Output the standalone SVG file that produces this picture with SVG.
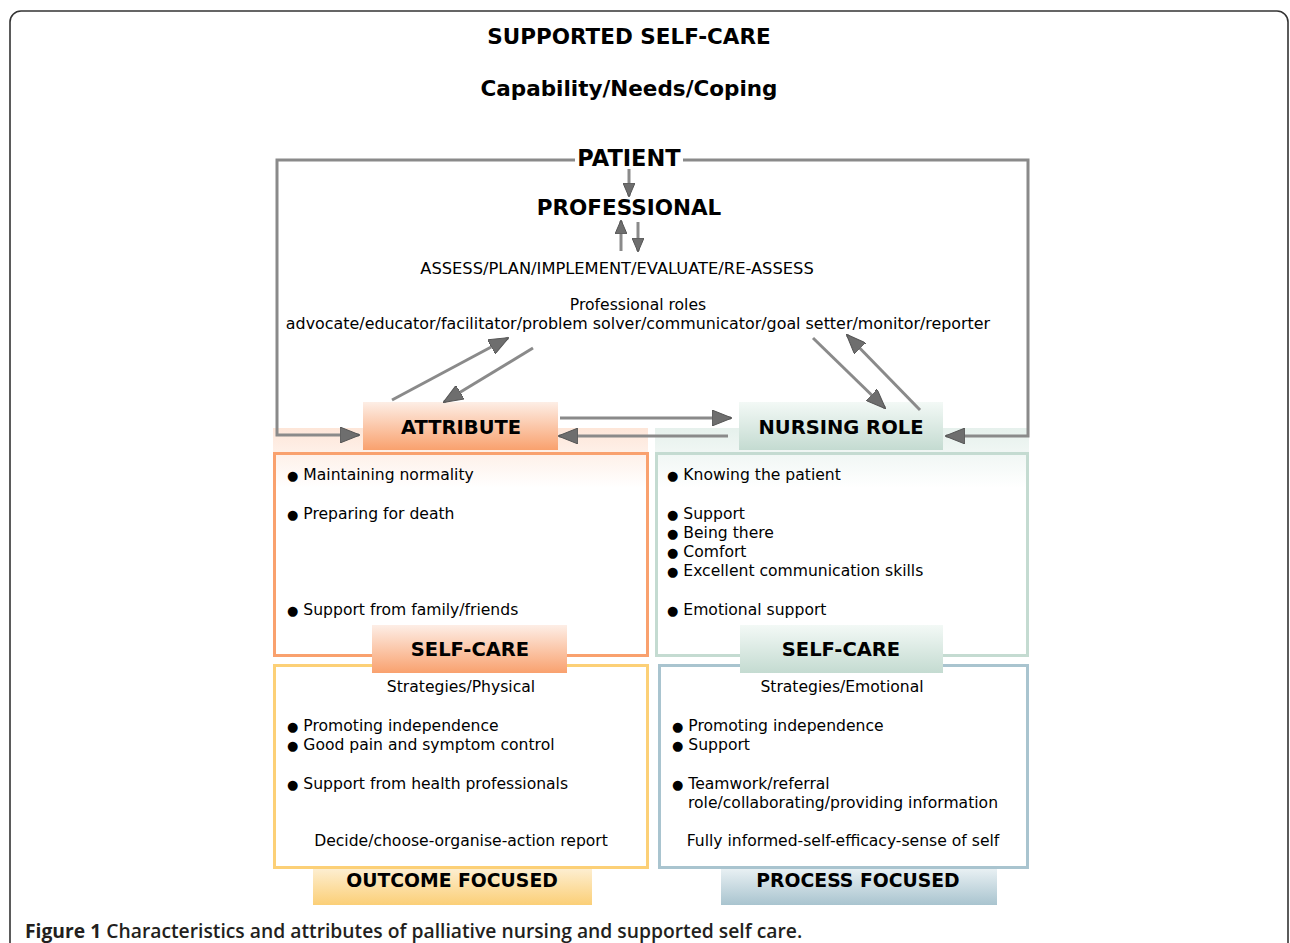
<svg xmlns="http://www.w3.org/2000/svg" width="1290" height="943" viewBox="0 0 1290 943">
<style>
.t{font-family:"DejaVu Sans",Verdana,sans-serif;fill:#000}
.h{font-size:21.5px;font-weight:bold}
.b{font-size:19.5px;font-weight:bold}
.f{font-size:18.8px;font-weight:bold}
.n{font-size:15.6px}
.c{text-anchor:middle}
.d{font-size:13px}
.ln{fill:none;stroke:#8a8a8a;stroke-width:3}
.cap{font-family:"Open Sans","Liberation Sans",sans-serif;font-size:19.3px;fill:#231f20}
</style>
<defs>
<marker id="ah" markerUnits="userSpaceOnUse" markerWidth="20" markerHeight="16" refX="19" refY="8" orient="auto">
<path d="M0,0 L20,8 L0,16 z" fill="#6e6e6e" stroke="#555" stroke-width="1"/>
</marker>
<marker id="as" markerUnits="userSpaceOnUse" markerWidth="14" markerHeight="12" refX="13" refY="6" orient="auto">
<path d="M0,0 L14,6 L0,12 z" fill="#6e6e6e" stroke="#555" stroke-width="1"/>
</marker>
<linearGradient id="gOr" x1="0" y1="0" x2="0" y2="1"><stop offset="0" stop-color="#fdeee6"/><stop offset="1" stop-color="#f9a16e"/></linearGradient>
<linearGradient id="gGr" x1="0" y1="0" x2="0" y2="1"><stop offset="0" stop-color="#f3f9f6"/><stop offset="1" stop-color="#c4dbd1"/></linearGradient>
<linearGradient id="gYe" x1="0" y1="0" x2="0" y2="1"><stop offset="0" stop-color="#fdeed0"/><stop offset="1" stop-color="#fbcf77"/></linearGradient>
<linearGradient id="gBl" x1="0" y1="0" x2="0" y2="1"><stop offset="0" stop-color="#e8f0f3"/><stop offset="1" stop-color="#a9c4cf"/></linearGradient>
<linearGradient id="bandOr" x1="0" y1="0" x2="0" y2="1"><stop offset="0" stop-color="#fde3d4" stop-opacity="0.9"/><stop offset="1" stop-color="#fde3d4" stop-opacity="0"/></linearGradient>
<linearGradient id="bandGr" x1="0" y1="0" x2="0" y2="1"><stop offset="0" stop-color="#e3efea" stop-opacity="0.9"/><stop offset="1" stop-color="#e3efea" stop-opacity="0"/></linearGradient>
</defs>
<rect width="1290" height="943" fill="#fff"/>
<rect x="10" y="11" width="1278" height="960" rx="11" fill="none" stroke="#333" stroke-width="1.6"/>
<g id="titles">
<text class="t h c" x="629" y="44">SUPPORTED SELF-CARE</text>
<text class="t h c" x="629" y="96">Capability/Needs/Coping</text>
</g>
<g id="bands">
<rect x="273" y="428" width="375" height="60" fill="url(#bandOr)"/>
<rect x="655" y="428" width="374" height="60" fill="url(#bandGr)"/>
</g>
<g id="patient"><text class="t c" x="629" y="166" font-size="22.5px" font-weight="bold">PATIENT</text></g>
<g id="professional"><text class="t h c" x="629" y="215">PROFESSIONAL</text></g>
<g id="process-text">
<text class="t c" x="617" y="274" font-size="16.3px">ASSESS/PLAN/IMPLEMENT/EVALUATE/RE-ASSESS</text>
<text class="t n c" x="638" y="310">Professional roles</text>
<text class="t c" x="638" y="329" font-size="15.9px">advocate/educator/facilitator/problem solver/communicator/goal setter/monitor/reporter</text>
</g>
<g id="attribute-panel">
<rect x="274.5" y="453.5" width="373" height="202" fill="none" stroke="#f9a16e" stroke-width="3"/>
<text class="t n" x="287" y="480"><tspan class="d">●</tspan> Maintaining normality</text>
<text class="t n" x="287" y="519"><tspan class="d">●</tspan> Preparing for death</text>
<text class="t n" x="287" y="615"><tspan class="d">●</tspan> Support from family/friends</text>
</g>
<g id="nursing-panel">
<rect x="656.5" y="453.5" width="371" height="202" fill="none" stroke="#c4dbd1" stroke-width="3"/>
<text class="t n" x="667" y="480"><tspan class="d">●</tspan> Knowing the patient</text>
<text class="t n" x="667" y="519"><tspan class="d">●</tspan> Support</text>
<text class="t n" x="667" y="538"><tspan class="d">●</tspan> Being there</text>
<text class="t n" x="667" y="557"><tspan class="d">●</tspan> Comfort</text>
<text class="t n" x="667" y="576"><tspan class="d">●</tspan> Excellent communication skills</text>
<text class="t n" x="667" y="615"><tspan class="d">●</tspan> Emotional support</text>
</g>
<g id="physical-panel">
<rect x="274.5" y="665.5" width="373" height="202" fill="none" stroke="#fcd077" stroke-width="3"/>
<text class="t n c" x="461" y="692">Strategies/Physical</text>
<text class="t n" x="287" y="731"><tspan class="d">●</tspan> Promoting independence</text>
<text class="t n" x="287" y="750"><tspan class="d">●</tspan> Good pain and symptom control</text>
<text class="t n" x="287" y="789"><tspan class="d">●</tspan> Support from health professionals</text>
<text class="t n c" x="461" y="846">Decide/choose-organise-action report</text>
</g>
<g id="emotional-panel">
<rect x="659.5" y="665.5" width="368" height="202" fill="none" stroke="#a9c4cf" stroke-width="3"/>
<text class="t n c" x="842" y="692">Strategies/Emotional</text>
<text class="t n" x="672" y="731"><tspan class="d">●</tspan> Promoting independence</text>
<text class="t n" x="672" y="750"><tspan class="d">●</tspan> Support</text>
<text class="t n" x="672" y="789"><tspan class="d">●</tspan> Teamwork/referral</text>
<text class="t n" x="688" y="808">role/collaborating/providing information</text>
<text class="t n c" x="843" y="846">Fully informed-self-efficacy-sense of self</text>
</g>
<g id="attribute">
<rect x="363" y="402" width="195" height="48" fill="url(#gOr)"/>
<text class="t b c" x="461" y="434">ATTRIBUTE</text>
</g>
<g id="nursing-role">
<rect x="739" y="402" width="204" height="48" fill="url(#gGr)"/>
<text class="t b c" x="841" y="434">NURSING ROLE</text>
</g>
<g id="self-care-left">
<rect x="372" y="625" width="195" height="48" fill="url(#gOr)"/>
<text class="t b c" x="470" y="656">SELF-CARE</text>
</g>
<g id="self-care-right">
<rect x="740" y="625" width="203" height="48" fill="url(#gGr)"/>
<text class="t b c" x="841" y="656">SELF-CARE</text>
</g>
<g id="outcome-focused">
<rect x="313" y="869" width="279" height="36" fill="url(#gYe)"/>
<text class="t f c" x="452" y="887">OUTCOME FOCUSED</text>
</g>
<g id="process-focused">
<rect x="721" y="869" width="276" height="36" fill="url(#gBl)"/>
<text class="t f c" x="858" y="887">PROCESS FOCUSED</text>
</g>
<g id="connectors">
<path class="ln" d="M575,160 H277 V435 H359" marker-end="url(#ah)"/>
<path class="ln" d="M683,160 H1028 V436 H946" marker-end="url(#ah)"/>
<path class="ln" d="M629,169 V196" marker-end="url(#as)"/>
<path class="ln" d="M621,251 V221" marker-end="url(#as)"/>
<path class="ln" d="M638,222 V251" marker-end="url(#as)"/>
<path class="ln" d="M392,400 L508,338" marker-end="url(#ah)"/>
<path class="ln" d="M533,348 L444,402" marker-end="url(#ah)"/>
<path class="ln" d="M813,338 L885,408" marker-end="url(#ah)"/>
<path class="ln" d="M920,410 L847,335" marker-end="url(#ah)"/>
<path class="ln" d="M560,418 L731,418" marker-end="url(#ah)"/>
<path class="ln" d="M728,436 L559,436" marker-end="url(#ah)"/>
</g>
<g id="caption">
<text class="cap" x="25" y="938"><tspan font-weight="700">Figure 1</tspan><tspan font-weight="600"> Characteristics and attributes of palliative nursing and supported self care.</tspan></text>
</g>
</svg>
